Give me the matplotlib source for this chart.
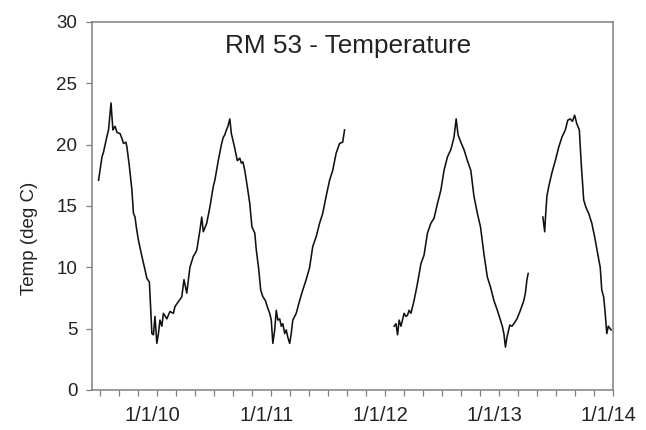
import matplotlib
matplotlib.use("Agg")
import matplotlib.pyplot as plt
import matplotlib.dates as mdates
from matplotlib.transforms import ScaledTranslation
import pandas as pd

# ---- data ----
seg1_dates = [
    "2009-06-26", "2009-07-07", "2009-07-12", "2009-07-17", "2009-07-25", "2009-07-28",
    "2009-08-05", "2009-08-11", "2009-08-18", "2009-08-24", "2009-09-03", "2009-09-09",
    "2009-09-14", "2009-09-22", "2009-09-25", "2009-10-03", "2009-10-11", "2009-10-16",
    "2009-10-21", "2009-10-25", "2009-11-01", "2009-11-12", "2009-11-22", "2009-11-28",
    "2009-12-06", "2009-12-11", "2009-12-14", "2009-12-19", "2009-12-24", "2009-12-30",
    "2010-01-04", "2010-01-09", "2010-01-15", "2010-01-20", "2010-01-31", "2010-02-10",
    "2010-02-21", "2010-02-26", "2010-03-09", "2010-03-20", "2010-03-27", "2010-04-05",
    "2010-04-15", "2010-04-26", "2010-05-01", "2010-05-07", "2010-05-17", "2010-05-23",
    "2010-05-28", "2010-06-08", "2010-06-18", "2010-06-29", "2010-07-04", "2010-07-15",
    "2010-07-25", "2010-07-31", "2010-08-05", "2010-08-10", "2010-08-15", "2010-08-21",
    "2010-08-26", "2010-09-06", "2010-09-14", "2010-09-22", "2010-09-27", "2010-10-02",
    "2010-10-08", "2010-10-16", "2010-10-24", "2010-10-31", "2010-11-09", "2010-11-14",
    "2010-11-22", "2010-11-28", "2010-12-05", "2010-12-13", "2010-12-19", "2010-12-27",
    "2011-01-01", "2011-01-06", "2011-01-12", "2011-01-17", "2011-01-22", "2011-01-28",
    "2011-02-02", "2011-02-07", "2011-02-13", "2011-02-18", "2011-02-23", "2011-03-01",
    "2011-03-06", "2011-03-11", "2011-03-22", "2011-04-02", "2011-04-12", "2011-04-23",
    "2011-05-04", "2011-05-14", "2011-05-25", "2011-06-05", "2011-06-15", "2011-06-26",
    "2011-07-07", "2011-07-17", "2011-07-28", "2011-08-08", "2011-08-18", "2011-08-24",
]
seg1_temp = [
    17.1, 19.0, 19.4, 20.0, 20.9, 21.2,
    23.4, 21.2, 21.5, 21.0, 20.9, 20.5,
    20.1, 20.2, 19.8, 18.2, 16.3, 14.4,
    14.1, 13.3, 12.2, 10.9, 9.8, 9.1,
    8.8, 6.25, 4.6, 4.5, 6.0, 3.8,
    4.6, 5.7, 5.2, 6.25, 5.8, 6.4,
    6.25, 6.8, 7.2, 7.6, 9.0, 7.9,
    10.0, 10.9, 11.1, 11.4, 13.0, 14.1,
    12.9, 13.6, 14.9, 16.6, 17.1, 18.7,
    20.0, 20.6, 20.8, 21.2, 21.5, 22.1,
    20.9, 19.7, 18.7, 18.9, 18.5, 18.6,
    17.9, 16.6, 15.2, 13.3, 12.8, 11.4,
    9.8, 8.15, 7.6, 7.3, 6.8, 6.25,
    5.7, 3.8, 4.9, 6.5, 5.7, 5.8,
    5.2, 5.4, 4.6, 4.9, 4.3, 3.8,
    4.6, 5.7, 6.25, 7.3, 8.15, 9.0,
    10.0, 11.7, 12.5, 13.6, 14.4, 15.8,
    17.1, 17.9, 19.3, 20.1, 20.2, 21.2,
]

seg2_dates = [
    "2012-01-30", "2012-02-05", "2012-02-10", "2012-02-15", "2012-02-21", "2012-03-02",
    "2012-03-08", "2012-03-13", "2012-03-18", "2012-03-24", "2012-04-03", "2012-04-14",
    "2012-04-25", "2012-05-05", "2012-05-16", "2012-05-27", "2012-06-06", "2012-06-17",
    "2012-06-28", "2012-07-08", "2012-07-19", "2012-07-30", "2012-08-09", "2012-08-16",
    "2012-08-22", "2012-08-31", "2012-09-10", "2012-09-21", "2012-10-02", "2012-10-12",
    "2012-10-23", "2012-11-02", "2012-11-13", "2012-11-24", "2012-12-04", "2012-12-15",
    "2012-12-26", "2013-01-05", "2013-01-11", "2013-01-16", "2013-01-21", "2013-01-26",
    "2013-02-04", "2013-02-11", "2013-02-17", "2013-02-27", "2013-03-10", "2013-03-21",
    "2013-03-26", "2013-03-31", "2013-04-04",
]
seg2_temp = [
    5.2, 5.4, 4.5, 5.7, 5.2, 6.25,
    6.0, 6.1, 6.5, 6.25, 7.3, 8.7,
    10.3, 11.0, 12.8, 13.6, 14.0, 15.2,
    16.3, 17.9, 19.0, 19.6, 20.6, 22.1,
    20.8, 20.2, 19.6, 18.7, 17.9, 15.8,
    14.4, 13.3, 11.1, 9.2, 8.4, 7.3,
    6.5, 5.7, 5.2, 4.6, 3.5, 4.3,
    5.3, 5.2, 5.4, 5.8, 6.5, 7.3,
    7.9, 9.0, 9.5,
]

seg3_dates = [
    "2013-05-21", "2013-05-27", "2013-05-29", "2013-06-03", "2013-06-09", "2013-06-19",
    "2013-06-30", "2013-07-11", "2013-07-21", "2013-08-01", "2013-08-09", "2013-08-17",
    "2013-08-24", "2013-08-31", "2013-09-07", "2013-09-15", "2013-09-21", "2013-09-29",
    "2013-10-06", "2013-10-15", "2013-10-25", "2013-11-03", "2013-11-13", "2013-11-21",
    "2013-11-26", "2013-12-02", "2013-12-07", "2013-12-12", "2013-12-17", "2013-12-23",
    "2013-12-26",
]
seg3_temp = [
    14.1, 12.9, 13.9, 15.8, 16.6, 17.7,
    18.7, 19.8, 20.6, 21.2, 22.0, 22.1,
    21.9, 22.4, 21.7, 21.2, 18.5, 15.5,
    14.9, 14.4, 13.6, 12.5, 11.1, 10.0,
    8.15, 7.6, 6.25, 4.6, 5.2, 5.0,
    4.9,
]

title = "RM 53 - Temperature"
ylabel = "Temp (deg C)"
x_start, x_end = "2009-06-05", "2014-01-01"
y_ticks = [0, 5, 10, 15, 20, 25, 30]

# ---- figure ----
plt.rcParams['font.family'] = ['Liberation Sans', 'DejaVu Sans']
fig = plt.figure(figsize=(6.46, 4.30), dpi=100)
ax = fig.add_axes([92 / 646, 1 - 390 / 430, (613 - 92) / 646, (390 - 22) / 430])

line_kw = dict(color='#111111', lw=1.15)
for d, t in ((seg1_dates, seg1_temp), (seg2_dates, seg2_temp), (seg3_dates, seg3_temp)):
    ax.plot(pd.to_datetime(d), t, **line_kw)

ax.set_xlim(pd.Timestamp(x_start), pd.Timestamp(x_end))
ax.set_ylim(0, 30)
ax.set_yticks(y_ticks)

ax.xaxis.set_major_locator(mdates.YearLocator())
ax.xaxis.set_minor_locator(mdates.MonthLocator(bymonth=[3, 5, 7, 9, 11]))
ax.xaxis.set_major_formatter(mdates.DateFormatter('%-m/%-d/%y'))

for s in ax.spines.values():
    s.set_color('#7f7f7f')
    s.set_linewidth(1.1)

ax.tick_params(axis='both', which='both', direction='out', length=4.5, width=0.9,
               color='#7f7f7f', labelcolor='#222222', pad=6)
ax.tick_params(axis='x', labelsize=14.5, pad=7)
ax.tick_params(axis='y', labelsize=13.5, pad=6)

shift = ScaledTranslation(-5 / 100, 0, fig.dpi_scale_trans)
for lab in ax.get_xticklabels():
    lab.set_transform(lab.get_transform() + shift)

fig.text(30 / 646, 1 - 238 / 430, ylabel, rotation=90, ha='center', va='center',
         fontsize=13.5, color='#222222')
ax.text(0.492, 0.935, title, transform=ax.transAxes, ha='center', va='center',
        fontsize=18.8, color='#222222')

fig.savefig("out.png", dpi=100)
